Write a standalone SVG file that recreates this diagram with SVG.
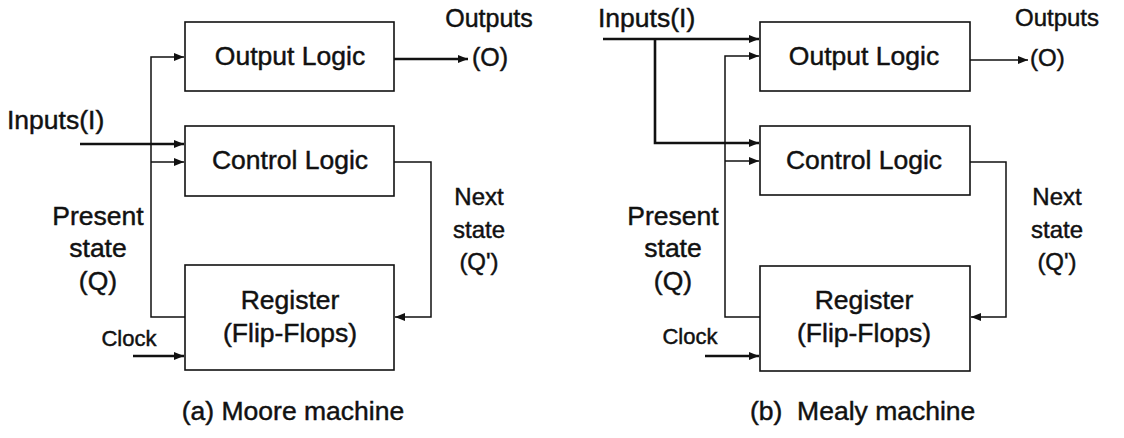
<svg xmlns="http://www.w3.org/2000/svg" width="1124" height="438" viewBox="0 0 1124 438">
<style>
.box{fill:none;stroke:#111;stroke-width:1.6}
.ln{fill:none;stroke:#111;stroke-width:1.5}
.thk{fill:none;stroke:#111;stroke-width:2.6}
text{font-family:"Liberation Sans",Arial,sans-serif;fill:#111;stroke:#111;stroke-width:0.45}
.lbl{font-size:26.5px;text-anchor:middle}
.side{font-size:24px;text-anchor:middle}
.clk{font-size:22px;text-anchor:middle}
.cap{font-size:26.5px}
</style>
<defs>
<marker id="ah" markerUnits="userSpaceOnUse" markerWidth="11" markerHeight="9" refX="10" refY="4" orient="auto">
<path d="M0,0 L10,4 L0,8 z" fill="#111"/>
</marker>
</defs>
<rect width="1124" height="438" fill="#fff"/>

<!-- Moore machine -->
<g id="moore-output-logic"><rect class="box" x="185" y="22" width="209" height="69"/><text class="lbl" x="290" y="65">Output Logic</text></g>
<g id="moore-control-logic"><rect class="box" x="185" y="126" width="209" height="70"/><text class="lbl" x="290" y="169">Control Logic</text></g>
<g id="moore-register"><rect class="box" x="185" y="265" width="209" height="105"/><text class="lbl" x="290" y="309">Register</text><text class="lbl" x="290" y="342">(Flip-Flops)</text></g>
<g id="moore-labels">
<text class="cap" x="7" y="129">Inputs(I)</text>
<text class="side" x="489" y="27" style="font-size:25px">Outputs</text>
<text class="side" x="472" y="66" style="text-anchor:start;font-size:25px">(O)</text>
<text class="lbl" x="98" y="225">Present</text>
<text class="lbl" x="98" y="257">state</text>
<text class="lbl" x="98" y="290">(Q)</text>
<text class="side" x="479" y="205">Next</text>
<text class="side" x="479" y="238">state</text>
<text class="side" x="479" y="270">(Q')</text>
<text class="clk" x="129" y="346">Clock</text>
<text class="cap" x="293" y="420" text-anchor="middle">(a) Moore machine</text>
</g>

<!-- Mealy machine -->
<g id="mealy-output-logic"><rect class="box" x="760" y="22" width="210" height="69"/><text class="lbl" x="864" y="65">Output Logic</text></g>
<g id="mealy-control-logic"><rect class="box" x="760" y="126" width="210" height="69"/><text class="lbl" x="864" y="169">Control Logic</text></g>
<g id="mealy-register"><rect class="box" x="760" y="266" width="210" height="105"/><text class="lbl" x="864" y="309">Register</text><text class="lbl" x="864" y="342">(Flip-Flops)</text></g>
<g id="mealy-labels">
<text class="cap" x="598" y="27">Inputs(I)</text>
<text class="side" x="1057" y="26">Outputs</text>
<text class="side" x="1030" y="66" style="text-anchor:start">(O)</text>
<text class="lbl" x="673" y="225">Present</text>
<text class="lbl" x="673" y="257">state</text>
<text class="lbl" x="673" y="290">(Q)</text>
<text class="side" x="1057" y="205">Next</text>
<text class="side" x="1057" y="238">state</text>
<text class="side" x="1057" y="270">(Q')</text>
<text class="clk" x="690" y="344">Clock</text>
<text class="cap" x="750" y="420" xml:space="preserve">(b)  Mealy machine</text>
</g>

<g id="connectors">
<!-- Moore -->
<path class="thk" d="M80,144 H184" marker-end="url(#ah)"/>
<path class="ln" d="M185,317 H151 V57 H184" marker-end="url(#ah)"/>
<path class="ln" d="M151,162 H184" marker-end="url(#ah)"/>
<path class="thk" d="M133,356 H184" marker-end="url(#ah)"/>
<path class="thk" d="M394,59 H468" marker-end="url(#ah)"/>
<path class="ln" d="M394,162 H431 V317 H395" marker-end="url(#ah)"/>
<!-- Mealy -->
<path class="thk" d="M603,39 H759" marker-end="url(#ah)"/>
<path class="thk" d="M655,39 V143 H759" marker-end="url(#ah)"/>
<path class="ln" d="M760,317 H725 V56 H759" marker-end="url(#ah)"/>
<path class="ln" d="M725,161 H759" marker-end="url(#ah)"/>
<path class="thk" d="M705,356 H759" marker-end="url(#ah)"/>
<path class="ln" d="M970,60 H1028" marker-end="url(#ah)"/>
<path class="ln" d="M970,162 H1006 V317 H971" marker-end="url(#ah)"/>
</g>
</svg>
